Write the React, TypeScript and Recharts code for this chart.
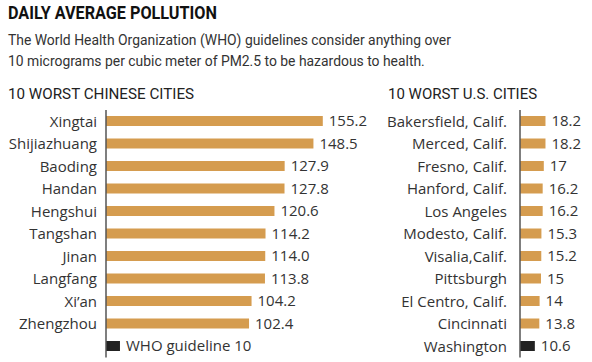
import React from 'react';
import { BarChart, Bar, XAxis, YAxis, Cell, LabelList } from 'recharts';

const chinaCities = ['Xingtai', 'Shijiazhuang', 'Baoding', 'Handan', 'Hengshui', 'Tangshan', 'Jinan', 'Langfang', 'Xi\u2019an', 'Zhengzhou'];
const chinaValues = [155.2, 148.5, 127.9, 127.8, 120.6, 114.2, 114.0, 113.8, 104.2, 102.4];

const usCities = ['Bakersfield, Calif.', 'Merced, Calif.', 'Fresno, Calif.', 'Hanford, Calif.', 'Los Angeles', 'Modesto, Calif.', 'Visalia,Calif.', 'Pittsburgh', 'El Centro, Calif.', 'Cincinnati', 'Washington'];
const usValues = [18.2, 18.2, 17, 16.2, 16.2, 15.3, 15.2, 15, 14, 13.8, 10.6];

const whoGuideline = 10;

const GOLD = '#d59c4f';
const DARK = '#222222';
const FONT = 'Roboto, "Liberation Sans", sans-serif';
const TICK_FONT = '"Open Sans", Roboto, sans-serif';

const chinaData = [
  ...chinaCities.map((name, i) => ({ name, value: chinaValues[i], label: chinaValues[i].toFixed(1), who: false })),
  { name: '', value: whoGuideline, label: `WHO guideline ${whoGuideline}`, who: true },
];

const usData = usCities.map((name, i) => ({
  name,
  value: usValues[i],
  label: String(usValues[i]),
  who: name === 'Washington',
}));

const tickStyle = { fill: '#333', fontSize: 15, fontFamily: TICK_FONT };
const labelStyle = { fill: '#333', fontSize: 15, fontFamily: TICK_FONT };

export default function App() {
  return (
    <div style={{ position: 'fixed', left: 0, top: 0, width: 592, height: 362, background: '#fff', fontFamily: FONT, color: '#222' }}>
      <div style={{ position: 'absolute', left: 8, top: 2, fontSize: 18, fontWeight: 700, color: '#111', transform: 'scaleX(0.9)', transformOrigin: 'left top', whiteSpace: 'nowrap' }}>
        DAILY AVERAGE POLLUTION
      </div>
      <div style={{ position: 'absolute', left: 8, top: 30, fontSize: 13.9, lineHeight: '21px', color: '#333', width: 560 }}>
        The World Health Organization (WHO) guidelines consider anything over<br />
        10 micrograms per cubic meter of PM2.5 to be hazardous to health.
      </div>
      <div style={{ position: 'absolute', left: 8, top: 85, fontSize: 15.2, color: '#222' }}>10 WORST CHINESE CITIES</div>
      <div style={{ position: 'absolute', left: 388, top: 85, fontSize: 15, color: '#222' }}>10 WORST U.S. CITIES</div>

      <div style={{ position: 'absolute', left: 0, top: 100 }}>
        <BarChart width={370} height={262} data={chinaData} layout="vertical" margin={{ top: 10, right: 40.5, bottom: 4.5, left: 0 }}>
          <XAxis type="number" domain={[0, 160]} hide />
          <YAxis type="category" dataKey="name" width={106} tickLine={false} tickSize={0} tickMargin={9} axisLine={{ stroke: '#555', strokeWidth: 1.5 }} tick={tickStyle} interval={0} />
          <Bar dataKey="value" barSize={10} isAnimationActive={false}>
            {chinaData.map((d, i) => (
              <Cell key={i} fill={d.who ? DARK : GOLD} />
            ))}
            <LabelList dataKey="label" position="right" offset={6} style={labelStyle} />
          </Bar>
        </BarChart>
      </div>

      <div style={{ position: 'absolute', left: 370, top: 100 }}>
        <BarChart width={222} height={262} data={usData} layout="vertical" margin={{ top: 10, right: 44, bottom: 4.5, left: 0 }}>
          <XAxis type="number" domain={[0, 20]} hide />
          <YAxis type="category" dataKey="name" width={150} tickLine={false} tickSize={0} tickMargin={13} axisLine={{ stroke: '#555', strokeWidth: 1.5 }} tick={tickStyle} interval={0} />
          <Bar dataKey="value" barSize={10} isAnimationActive={false}>
            {usData.map((d, i) => (
              <Cell key={i} fill={d.who ? DARK : GOLD} />
            ))}
            <LabelList dataKey="label" position="right" offset={6} style={labelStyle} />
          </Bar>
        </BarChart>
      </div>
    </div>
  );
}
